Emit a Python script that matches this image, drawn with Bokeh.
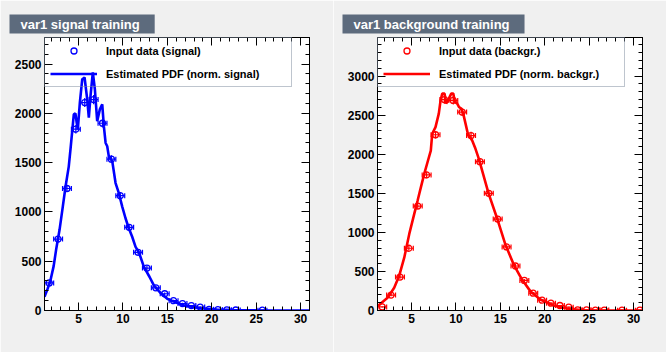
from bokeh.plotting import figure
from bokeh.models import (Range1d, SingleIntervalTicker, LinearAxis, Legend, LegendItem,
                          Whisker, ColumnDataSource, TeeHead, CustomJSTickFormatter)
from bokeh.layouts import row
from bokeh.embed import file_html
from bokeh.resources import INLINE
import math

# ---- data ----
bin_centers = [1.7, 2.7, 3.7, 4.7, 5.7, 6.7, 7.7, 8.7, 9.7, 10.7, 11.7, 12.7, 13.7, 14.7, 15.7,
               16.7, 17.7, 18.7, 19.7, 20.7, 21.7, 22.7, 23.7, 24.7, 25.7, 26.7, 27.7, 28.7, 29.7, 30.7]
bin_half = 0.5

sig_counts = [280, 725, 1238, 1840, 2110, 2140, 1900, 1535, 1165, 844, 590, 430, 230, 170, 100,
              70, 50, 35, 12, 8, 6, 5, 0, 0, 3, 0, 0, 0, 0, 0]
bkg_counts = [46, 197, 428, 797, 1337, 1736, 2250, 2700, 2690, 2540, 2240, 1905, 1500, 1170, 814,
              570, 385, 222, 132, 94, 64, 43, 8, 8, 5, 5, 0, 4, 0, 4]

sig_pdf_x = [1.17, 1.5, 1.8, 2.2, 2.5, 2.86, 3.23, 3.54, 3.9, 4.1, 4.29, 4.47, 4.65, 4.77, 4.92,
             5.15, 5.42, 5.68, 5.98, 6.16, 6.35, 6.61, 6.84, 7.1, 7.4, 7.67, 7.85, 8.05, 8.23, 8.41,
             8.8, 9.17, 9.54, 9.92, 10.29, 10.66, 11.04, 11.42, 11.8, 12.36, 13.0, 13.48, 14.2,
             14.99, 16.0, 16.86, 18.74, 20.6, 22.5, 25.0, 28.0, 31.0]
sig_pdf_y = [140, 215, 290, 450, 630, 816, 1054, 1258, 1460, 1640, 1820, 1990, 2000, 1921, 1837,
             2109, 2347, 2364, 2143, 1956, 2177, 2415, 2245, 1921, 2041, 2092, 1870, 1700, 1667, 1564,
             1513, 1293, 1190, 1054, 936, 834, 748, 646, 590, 442, 340, 255, 180,
             119, 80, 51, 23, 10, 5, 2, 0, 0]

bkg_pdf_x = [1.17, 2.3, 3.05, 3.6, 4.18, 4.74, 5.3, 5.68, 6.05, 6.43, 6.8, 7.17, 7.33, 7.7, 8.07,
             8.27, 8.46, 8.72, 8.9, 9.2, 9.47, 9.7, 9.88, 10.15, 10.34, 10.6, 10.82, 11.08, 11.34,
             11.83, 12.2, 12.58, 13.67, 14.6, 15.55, 16.49, 17.42, 18.37, 19.5, 21.0, 22.5, 24.37,
             26.0, 31.0]
bkg_pdf_y = [55, 162, 291, 441, 676, 977, 1234, 1405, 1576, 1749, 1898, 2048, 2263, 2348, 2520,
             2691, 2777, 2777, 2649, 2713, 2777, 2777, 2670, 2649, 2605, 2585, 2520, 2392, 2263,
             2177, 2070, 1942, 1499, 1191, 849, 592, 399, 248, 141, 64, 26, 4,
             0, 0]

x_limits = (1.17, 31.0)
FONT = "Liberation Sans"


def make_panel(title, counts, pdf_x, pdf_y, color, ymax, lab_data, lab_pdf):
    p = figure(frame_width=265, frame_height=273,
               x_range=Range1d(*x_limits), y_range=Range1d(0, ymax),
               output_backend="svg", toolbar_location=None, title=title,
               min_border_left=44, min_border_right=24, min_border_top=37, min_border_bottom=42,
               background_fill_color="white", border_fill_color="#f0f0f0",
               outline_line_color="black", outline_line_width=1)
    p.grid.visible = False

    t = p.title
    t.align = "left"
    t.vertical_align = "top"
    t.standoff = 4
    t.offset = -35
    t.text_font = FONT
    t.text_font_style = "bold"
    t.text_font_size = "13px"
    t.text_color = "white"
    t.background_fill_color = "#5D6B7D"
    t.padding = dict(left=11, right=15, top=2, bottom=2)

    xt = SingleIntervalTicker(interval=5, num_minor_ticks=5)
    yt = SingleIntervalTicker(interval=500, num_minor_ticks=5)
    p.xaxis.ticker = xt
    p.yaxis.ticker = yt
    for ax in (p.xaxis[0], p.yaxis[0]):
        ax.major_tick_in = 8
        ax.major_tick_out = 0
        ax.minor_tick_in = 4
        ax.minor_tick_out = 0
        ax.axis_line_color = "black"
        ax.major_label_text_font = FONT
        ax.major_label_text_font_style = "bold"
        ax.major_label_text_font_size = "12px"
        ax.major_label_text_color = "black"
    p.xaxis.major_label_standoff = 3
    p.yaxis.major_label_standoff = 3

    for place, tk in (("right", yt), ("above", xt)):
        ax = LinearAxis(ticker=tk, major_tick_in=8, major_tick_out=0, minor_tick_in=4,
                        minor_tick_out=0, formatter=CustomJSTickFormatter(code="return ''"),
                        major_label_standoff=0, axis_line_color="black")
        p.add_layout(ax, place)

    xs = [x for x, c in zip(bin_centers, counts) if c > 0]
    ys = [c for c in counts if c > 0]
    src = ColumnDataSource(dict(
        x=xs, y=ys,
        xl=[x - bin_half for x in xs], xu=[x + bin_half for x in xs],
        yl=[y - math.sqrt(y) for y in ys], yu=[y + math.sqrt(y) for y in ys]))

    wh = Whisker(source=src, base="y", lower="xl", upper="xu", dimension="width",
                 line_color=color, line_width=1.2,
                 upper_head=TeeHead(size=5, line_color=color, line_width=1.2),
                 lower_head=TeeHead(size=5, line_color=color, line_width=1.2))
    p.add_layout(wh)
    wv = Whisker(source=src, base="x", lower="yl", upper="yu", dimension="height",
                 line_color=color, line_width=1.2, upper_head=None, lower_head=None)
    p.add_layout(wv)

    r_pts = p.scatter("x", "y", source=src, marker="circle", size=6, fill_color=None,
                      line_color=color, line_width=1.3)
    r_line = p.line(pdf_x, pdf_y, line_color=color, line_width=2.6)

    legend = Legend(items=[LegendItem(label=lab_data, renderers=[r_pts]),
                           LegendItem(label=lab_pdf, renderers=[r_line])],
                    location="top_left", margin=0, padding=5, spacing=8,
                    glyph_width=47, glyph_height=15, label_height=15, label_width=180,
                    label_standoff=9, label_text_font=FONT, label_text_font_style="bold",
                    label_text_font_size="11px", label_text_color="black",
                    border_line_color="#7D8B9D", border_line_width=1,
                    background_fill_alpha=0)
    p.add_layout(legend)
    return p


p1 = make_panel("var1 signal training", sig_counts, sig_pdf_x, sig_pdf_y, "#0000FF", 2770,
                "Input data (signal)", "Estimated PDF (norm. signal)")
p2 = make_panel("var1 background training", bkg_counts, bkg_pdf_x, bkg_pdf_y, "#FF0000", 3495,
                "Input data (backgr.)", "Estimated PDF (norm. backgr.)")

layout = row(p1, p2)
open("out.html", "w").write(file_html(layout, INLINE))
